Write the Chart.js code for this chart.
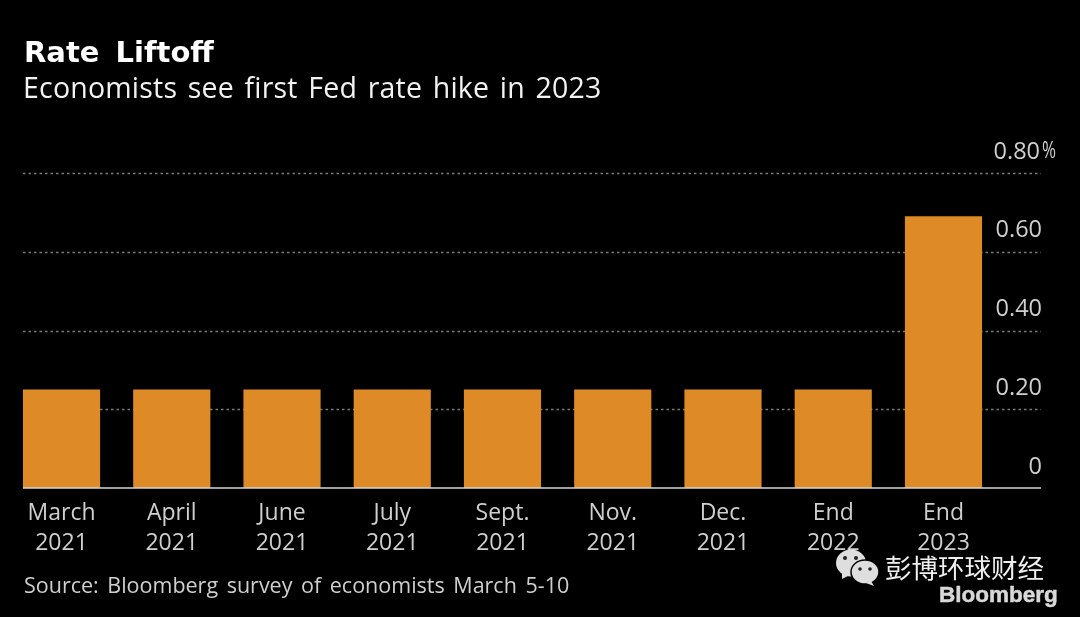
<!DOCTYPE html>
<html>
<head>
<meta charset="utf-8">
<title>Rate Liftoff</title>
<script src="https://cdn.jsdelivr.net/npm/chart.js@4"></script>
<style>
  html, body { margin: 0; padding: 0; background: #000; }
  #wrap { position: relative; width: 1080px; height: 617px; overflow: hidden; background: #000; font-family: "Open Sans", sans-serif; }
  #wrap canvas { position: absolute; left: 0; top: 0; }
  .txt { position: absolute; white-space: nowrap; line-height: 1; }
  #title { left: 24px; top: 38px; font-size: 29px; font-weight: bold; color: #fff; font-family: "DejaVu Sans", sans-serif; word-spacing: 6px; }
  #subtitle { left: 23px; top: 73px; font-size: 28.5px; color: #f2f2f2; word-spacing: 3px; letter-spacing: 0.2px; }
  #source { left: 24px; top: 574px; font-size: 21.5px; color: #cfcfcf; word-spacing: 3px; }
  #cn { left: 885px; top: 554px; font-size: 26.5px; color: #efefef; font-family: "Noto Sans CJK SC", sans-serif; }
  #brand { left: 939px; top: 584px; font-size: 22.5px; font-weight: bold; color: #d8d8d8; font-family: "Liberation Sans", sans-serif; -webkit-text-stroke: 0.5px #d8d8d8; }
  #wechat { position: absolute; left: 836px; top: 548px; }
</style>
</head>
<body>
<div id="wrap">
  <canvas id="rates" width="1080" height="617"></canvas>
  <div class="txt" id="title">Rate Liftoff</div>
  <div class="txt" id="subtitle">Economists see first Fed rate hike in 2023</div>
  <div class="txt" id="source">Source: Bloomberg survey of economists March 5-10</div>
  <svg id="wechat" width="44" height="40" viewBox="0 0 44 40">
    <ellipse cx="15" cy="15" rx="15" ry="13.5" fill="#dedede"/>
    <path d="M6 24 L6 31 L14 27 Z" fill="#dedede"/>
    <ellipse cx="29" cy="24" rx="14" ry="12" stroke="#000" stroke-width="1.5" fill="#dedede"/>
    <path d="M35 33 L38 38 L30 35 Z" fill="#dedede"/>
    <circle cx="9" cy="10" r="2" fill="#222"/><circle cx="20" cy="10" r="2" fill="#222"/>
    <circle cx="24" cy="21" r="1.8" fill="#222"/><circle cx="34" cy="21" r="1.8" fill="#222"/>
  </svg>
  <div class="txt" id="cn">彭博环球财经</div>
  <div class="txt" id="brand">Bloomberg</div>
</div>
<script>
const categories = [['March', '2021'], ['April', '2021'], ['June', '2021'], ['July', '2021'], ['Sept.', '2021'], ['Nov.', '2021'], ['Dec.', '2021'], ['End', '2022'], ['End', '2023']];
const rateValues = [0.25, 0.25, 0.25, 0.25, 0.25, 0.25, 0.25, 0.25, 0.69];
const tickValues = [0, 0.2, 0.4, 0.6, 0.8];
const tickLabels = ['0', '0.20', '0.40', '0.60', '0.80'];

const labelFont = '23.5px "Open Sans"';

// gridlines run past the category band, so they are drawn here off the y scale
const gridPlugin = {
  id: 'gridPlugin',
  beforeDatasetsDraw(chart) {
    const ctx = chart.ctx, y = chart.scales.y;
    ctx.save();
    ctx.lineWidth = 1.5;
    ctx.strokeStyle = '#7a7a7a';
    ctx.setLineDash([2.5, 3]);
    tickValues.slice(1).forEach(v => {
      const py = Math.round(y.getPixelForValue(v)) + 0.5;
      ctx.beginPath();
      ctx.moveTo(23, py);
      ctx.lineTo(1041, py);
      ctx.stroke();
    });
    ctx.restore();
  },
  afterDatasetsDraw(chart) {
    const ctx = chart.ctx, y = chart.scales.y;
    const base = y.getPixelForValue(0);
    ctx.save();
    ctx.strokeStyle = '#d6d6d6';
    ctx.lineWidth = 1.5;
    ctx.beginPath();
    ctx.moveTo(23, base);
    ctx.lineTo(1041, base);
    ctx.stroke();

    // y labels sit above their lines, right aligned, with the % hanging out
    ctx.font = labelFont;
    ctx.fillStyle = '#cfcfcf';
    ctx.textBaseline = 'middle';
    ctx.textAlign = 'right';
    tickValues.forEach((v, i) => {
      const right = i === tickValues.length - 1 ? 1040 : 1042;
      ctx.fillText(tickLabels[i], right, y.getPixelForValue(v) - 21);
    });
    ctx.textAlign = 'left';
    ctx.fillText('%', 1042, y.getPixelForValue(0.8) - 22, 14);
    ctx.restore();
  }
};

new Chart(document.getElementById('rates').getContext('2d'), {
  type: 'bar',
  data: {
    labels: categories,
    datasets: [{
      data: rateValues,
      backgroundColor: '#de8a26',
      barPercentage: 0.7,
      categoryPercentage: 1
    }]
  },
  options: {
    responsive: false,
    animation: false,
    layout: { padding: { left: 6.4, right: 81.4, top: 173, bottom: 0 } },
    plugins: { legend: { display: false }, title: { display: false }, tooltip: { enabled: false } },
    scales: {
      x: {
        grid: { display: false },
        border: { display: false },
        afterFit(scale) { scale.height = 129; },
        ticks: {
          color: '#cfcfcf',
          autoSkip: false,
          maxRotation: 0,
          minRotation: 0,
          padding: 3,
          font: { family: 'Open Sans', size: 23, lineHeight: 1.3 }
        }
      },
      y: {
        min: 0,
        max: 0.8,
        grid: { display: false },
        border: { display: false },
        ticks: { display: false, stepSize: 0.2 },
        afterFit(scale) { scale.width = 0; }
      }
    }
  },
  plugins: [gridPlugin]
});
</script>
</body>
</html>
